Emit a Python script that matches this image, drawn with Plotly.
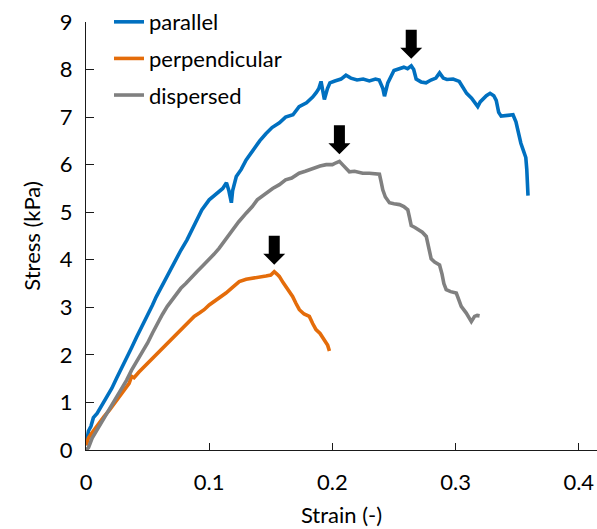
import plotly.graph_objects as go

# Stress-strain curves for three fibre orientations
parallel_strain = [0.000, 0.002, 0.004, 0.006, 0.009, 0.012, 0.015, 0.017, 0.021, 0.025,
                   0.029, 0.033, 0.037, 0.041, 0.045, 0.050, 0.054, 0.057, 0.061, 0.065,
                   0.068, 0.072, 0.077, 0.082, 0.086, 0.090, 0.094, 0.100, 0.104, 0.108,
                   0.111, 0.114, 0.116, 0.118, 0.119, 0.122, 0.126, 0.130, 0.134, 0.138,
                   0.141, 0.146, 0.151, 0.157, 0.162, 0.168, 0.173, 0.179, 0.184, 0.187,
                   0.189, 0.1908, 0.1925, 0.1935, 0.196, 0.198, 0.202, 0.207, 0.211, 0.215,
                   0.220, 0.225, 0.230, 0.235, 0.238, 0.241, 0.2423, 0.245, 0.250, 0.254,
                   0.258, 0.261, 0.264, 0.266, 0.268, 0.272, 0.276, 0.280, 0.284, 0.287,
                   0.290, 0.293, 0.298, 0.303, 0.306, 0.309, 0.313, 0.318, 0.320, 0.322,
                   0.325, 0.328, 0.331, 0.333, 0.335, 0.337, 0.341, 0.3466, 0.349, 0.351,
                   0.353, 0.355, 0.357, 0.3578, 0.3585, 0.3588]
parallel_stress = [0.10, 0.40, 0.50, 0.68, 0.77, 0.90, 1.02, 1.12, 1.30, 1.52,
                   1.72, 1.95, 2.15, 2.37, 2.58, 2.81, 3.05, 3.22, 3.42, 3.58,
                   3.76, 3.93, 4.20, 4.42, 4.62, 4.85, 5.05, 5.26, 5.35, 5.42,
                   5.50, 5.62, 5.45, 5.20, 5.45, 5.75, 5.90, 6.10, 6.25, 6.38,
                   6.50, 6.65, 6.78, 6.88, 7.00, 7.05, 7.22, 7.30, 7.42, 7.52,
                   7.60, 7.75, 7.55, 7.37, 7.60, 7.72, 7.76, 7.80, 7.88, 7.82,
                   7.78, 7.80, 7.76, 7.80, 7.78, 7.60, 7.44, 7.72, 7.98, 8.02,
                   8.05, 8.02, 8.08, 8.00, 7.80, 7.74, 7.72, 7.78, 7.82, 7.93,
                   7.82, 7.79, 7.80, 7.75, 7.62, 7.50, 7.40, 7.22, 7.32, 7.38,
                   7.45, 7.50, 7.45, 7.35, 7.10, 7.02, 7.03, 7.05, 6.90, 6.65,
                   6.45, 6.30, 6.15, 5.90, 5.60, 5.35]

perpendicular_strain = [0.000, 0.002, 0.004, 0.0065, 0.010, 0.0146, 0.019, 0.0228, 0.027, 0.0309,
                        0.035, 0.037, 0.039, 0.043, 0.0472, 0.051, 0.0553, 0.059, 0.0634, 0.067,
                        0.0715, 0.076, 0.0797, 0.084, 0.0878, 0.092, 0.0959, 0.100, 0.104, 0.109,
                        0.1136, 0.118, 0.1244, 0.130, 0.1352, 0.140, 0.1461, 0.150, 0.1528, 0.155,
                        0.1569, 0.160, 0.1623, 0.165, 0.1677, 0.1705, 0.1732, 0.177, 0.1813, 0.184,
                        0.1867, 0.190, 0.1935, 0.1962, 0.1976]
perpendicular_stress = [0.10, 0.25, 0.33, 0.42, 0.55, 0.70, 0.84, 0.98, 1.12, 1.26,
                        1.40, 1.55, 1.52, 1.64, 1.75, 1.86, 1.96, 2.07, 2.17, 2.28,
                        2.39, 2.50, 2.60, 2.72, 2.81, 2.88, 2.95, 3.05, 3.12, 3.22,
                        3.30, 3.40, 3.54, 3.59, 3.61, 3.62, 3.66, 3.68, 3.75, 3.70,
                        3.65, 3.52, 3.44, 3.32, 3.23, 3.08, 2.95, 2.86, 2.81, 2.66,
                        2.53, 2.45, 2.32, 2.20, 2.08]

dispersed_strain = [0.000, 0.002, 0.005, 0.009, 0.013, 0.017, 0.021, 0.025, 0.029, 0.033,
                    0.037, 0.042, 0.046, 0.050, 0.054, 0.058, 0.062, 0.066, 0.071, 0.077,
                    0.081, 0.085, 0.090, 0.095, 0.100, 0.104, 0.108, 0.113, 0.119, 0.124,
                    0.130, 0.135, 0.139, 0.145, 0.1515, 0.157, 0.162, 0.167, 0.173, 0.178,
                    0.184, 0.190, 0.195, 0.200, 0.203, 0.2057, 0.209, 0.2138, 0.218, 0.222,
                    0.2246, 0.230, 0.235, 0.2382, 0.2395, 0.2409, 0.243, 0.2463, 0.250, 0.2545,
                    0.258, 0.2612, 0.2625, 0.264, 0.267, 0.2707, 0.273, 0.2762, 0.278, 0.2802,
                    0.283, 0.287, 0.289, 0.2905, 0.2924, 0.296, 0.3006, 0.3025, 0.3046, 0.3087,
                    0.311, 0.3128, 0.3154, 0.3175, 0.3195]
dispersed_stress = [0.00, 0.05, 0.25, 0.42, 0.60, 0.77, 0.95, 1.12, 1.30, 1.47,
                    1.68, 1.89, 2.08, 2.25, 2.46, 2.67, 2.85, 3.02, 3.20, 3.40,
                    3.50, 3.62, 3.75, 3.88, 4.00, 4.12, 4.24, 4.42, 4.63, 4.80,
                    4.98, 5.12, 5.26, 5.38, 5.50, 5.58, 5.68, 5.72, 5.82, 5.86,
                    5.92, 5.97, 6.00, 6.00, 6.04, 6.07, 5.98, 5.85, 5.86, 5.84,
                    5.82, 5.82, 5.80, 5.80, 5.65, 5.47, 5.32, 5.20, 5.18, 5.16,
                    5.12, 5.05, 4.90, 4.72, 4.68, 4.63, 4.58, 4.49, 4.25, 4.02,
                    3.95, 3.89, 3.70, 3.50, 3.37, 3.33, 3.30, 3.15, 3.02, 2.88,
                    2.78, 2.70, 2.81, 2.83, 2.82]

series_names = ["parallel", "perpendicular", "dispersed"]
series_colors = ["#0070C0", "#E46C0A", "#808080"]
series_strain = [parallel_strain, perpendicular_strain, dispersed_strain]
series_stress = [parallel_stress, perpendicular_stress, dispersed_stress]

x_ticks = [0, 0.1, 0.2, 0.3, 0.4]
y_ticks = [0, 1, 2, 3, 4, 5, 6, 7, 8, 9]

FONT = "Lato, 'Open Sans', sans-serif"
INK = "#000000"
AXIS = "#1a1a1a"

fig = go.Figure()
for name, color, xs, ys in zip(series_names, series_colors, series_strain, series_stress):
    fig.add_trace(go.Scatter(
        x=xs, y=ys, mode="lines", name=name, legendgroup=name,
        line=dict(color=color, width=3.6),
    ))

# Down arrow above the peak stress of each curve
gap = 7
for xs, ys in zip(series_strain, series_stress):
    i = max(range(len(ys)), key=lambda k: ys[k])
    path = (f"M -5.5,{gap + 29} L 5.5,{gap + 29} L 5.5,{gap + 11} L 11,{gap + 11} "
            f"L 0,{gap} L -11,{gap + 11} L -5.5,{gap + 11} Z")
    fig.add_shape(
        type="path", xref="x", yref="y",
        xsizemode="pixel", ysizemode="pixel",
        xanchor=xs[i], yanchor=ys[i],
        path=path, fillcolor="black", line=dict(width=0),
    )

fig.update_layout(
    width=597, height=529,
    margin=dict(l=86, r=0, t=22, b=79),
    paper_bgcolor="white", plot_bgcolor="white",
    font=dict(family=FONT, size=22, color=INK),
    showlegend=True,
    legend=dict(
        x=0.045, y=1.049, xanchor="left", yanchor="top",
        bgcolor="rgba(0,0,0,0)", tracegroupgap=5,
        font=dict(family=FONT, size=22, color=INK), itemwidth=30,
    ),
    xaxis=dict(
        range=[0, 0.4148], tickvals=x_ticks, ticktext=[f"{v:g}" for v in x_ticks],
        showgrid=False, zeroline=False,
        showline=True, linecolor=AXIS, linewidth=1.3,
        ticks="inside", ticklen=7, tickcolor=AXIS, tickwidth=1.3,
        ticklabelstandoff=12,
        tickfont=dict(family=FONT, size=22, color=INK),
        title=dict(text="Strain (-)", font=dict(family=FONT, size=22, color=INK), standoff=14),
    ),
    yaxis=dict(
        range=[0, 9], tickvals=y_ticks,
        showgrid=False, zeroline=False,
        showline=True, linecolor=AXIS, linewidth=1.3,
        ticks="inside", ticklen=8, tickcolor=AXIS, tickwidth=1.3,
        ticklabelstandoff=8,
        tickfont=dict(family=FONT, size=22, color=INK),
        title=dict(text="Stress (kPa)", font=dict(family=FONT, size=22, color=INK), standoff=12),
    ),
)

fig.write_html("out.html")
